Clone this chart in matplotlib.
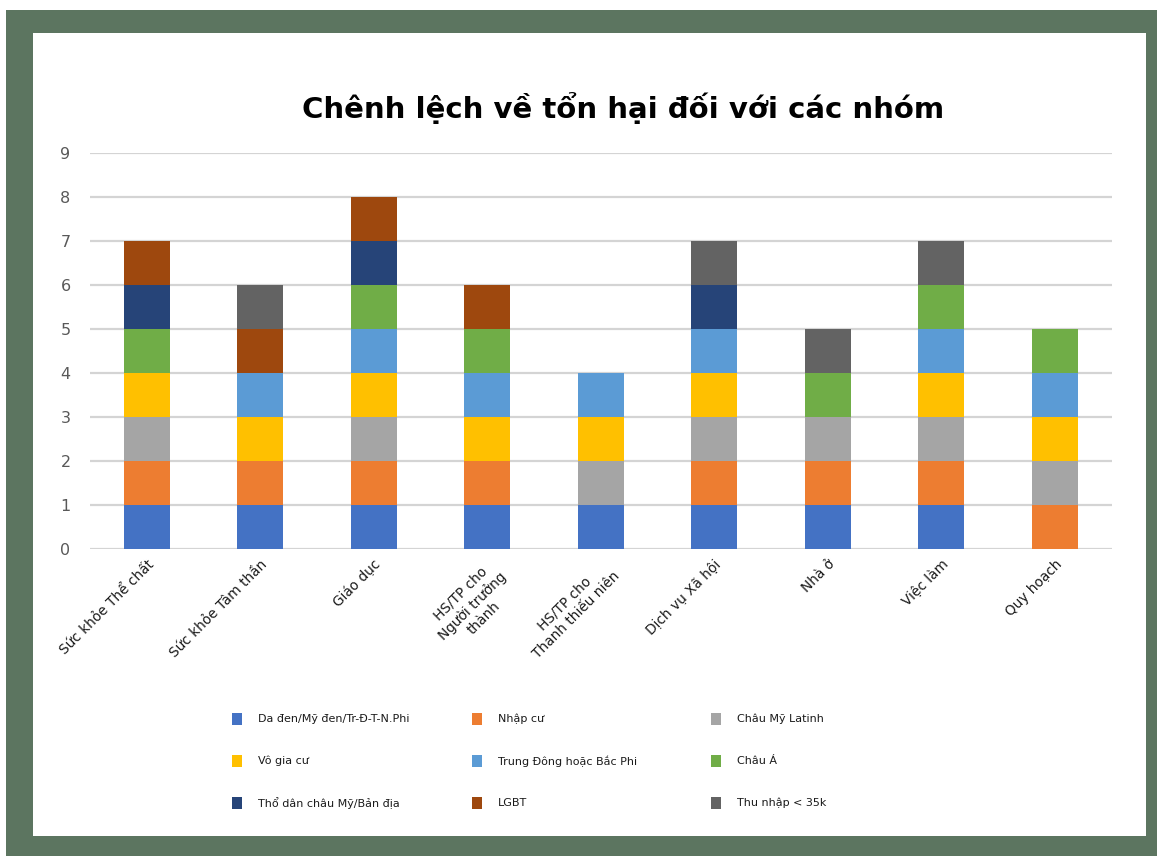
import matplotlib
matplotlib.use("Agg")
import matplotlib.pyplot as plt
from matplotlib.patches import Rectangle
import numpy as np

categories = ["Sức khỏe Thể chất", "Sức khỏe Tâm thần", "Giáo dục",
              "HS/TP cho\nNgười trưởng\nthành", "HS/TP cho\nThanh thiếu niên",
              "Dịch vụ Xã hội", "Nhà ở", "Việc làm", "Quy hoạch"]

groups = ["Da đen/Mỹ đen/Tr-Đ-T-N.Phi", "Nhập cư", "Châu Mỹ Latinh",
          "Vô gia cư", "Trung Đông hoặc Bắc Phi", "Châu Á",
          "Thổ dân châu Mỹ/Bản địa", "LGBT", "Thu nhập < 35k"]

colors = ["#4472C4", "#ED7D31", "#A5A5A5", "#FFC000", "#5B9BD5",
          "#70AD47", "#264478", "#9E480E", "#636363"]

# values per group, across categories
black      = [1, 1, 1, 1, 1, 1, 1, 1, 0]
immigrant  = [1, 1, 1, 1, 0, 1, 1, 1, 1]
latin      = [1, 0, 1, 0, 1, 1, 1, 1, 1]
homeless   = [1, 1, 1, 1, 1, 1, 0, 1, 1]
mena       = [0, 1, 1, 1, 1, 1, 0, 1, 1]
asian      = [1, 0, 1, 1, 0, 0, 1, 1, 1]
native     = [1, 0, 1, 0, 0, 1, 0, 0, 0]
lgbt       = [1, 1, 1, 1, 0, 0, 0, 0, 0]
lowincome  = [0, 1, 0, 0, 0, 1, 1, 1, 0]

series = [black, immigrant, latin, homeless, mena, asian, native, lgbt, lowincome]
yticks = [0, 1, 2, 3, 4, 5, 6, 7, 8, 9]

W, H = 1157, 856
fig = plt.figure(figsize=(W / 100, H / 100), dpi=100, facecolor="white")

# frame
fig.patches.append(Rectangle((6 / W, 0), 1 - 6 / W, (H - 10) / H,
                             transform=fig.transFigure, facecolor="#5C7560",
                             edgecolor="none", zorder=-10))
fig.patches.append(Rectangle((33 / W, 20 / H), (1146 - 33) / W, (823 - 20) / H,
                             transform=fig.transFigure, facecolor="white",
                             edgecolor="none", zorder=-9))

ax = fig.add_axes([90 / W, (H - 549) / H, (1111.7 - 90) / W, (549 - 152.7) / H])
ax.set_facecolor("none")
x = np.arange(len(categories))
bottom = np.zeros(len(categories))
for vals, c in zip(series, colors):
    v = np.array(vals, dtype=float)
    ax.bar(x, v, width=0.405, bottom=bottom, color=c, zorder=3, linewidth=0)
    bottom += v

ax.set_xlim(-0.5, 8.5)
ax.set_ylim(0, 9)
ax.set_yticks(yticks)
ax.set_yticklabels([str(t) for t in yticks], fontsize=11.5, color="#595959")
ax.yaxis.grid(True, color="#D4D4D4", linewidth=1.6, zorder=0)
ax.set_axisbelow(True)
for s in ax.spines.values():
    s.set_visible(False)
ax.tick_params(axis="y", length=0, pad=14)
ax.tick_params(axis="x", length=0, pad=6)
ax.set_xticks(x)
ax.set_xticklabels(categories, rotation=45, ha="right", rotation_mode="anchor",
                   fontsize=9.8, color="#1a1a1a", multialignment="center")
for lbl in ax.get_xticklabels():
    lbl.set_x(lbl.get_position()[0])

fig.text(623 / W, 1 - 108 / H, "Chênh lệch về tổn hại đối với các nhóm",
         ha="center", va="center", fontsize=21, fontweight="bold", color="black")

# legend (3 columns, row-wise)
col_x = [232, 472, 711]
row_y = [719, 761, 803]
for i, (name, c) in enumerate(zip(groups, colors)):
    r, k = divmod(i, 3)
    mx, my = col_x[k], row_y[r]
    fig.patches.append(Rectangle((mx / W, 1 - (my + 6) / H), 10 / W, 12 / H,
                                 transform=fig.transFigure, facecolor=c,
                                 edgecolor="none"))
    fig.text((mx + 26) / W, 1 - my / H, name, ha="left", va="center",
             fontsize=8, color="#1a1a1a")

fig.savefig("out.png", dpi=100, facecolor="white")
